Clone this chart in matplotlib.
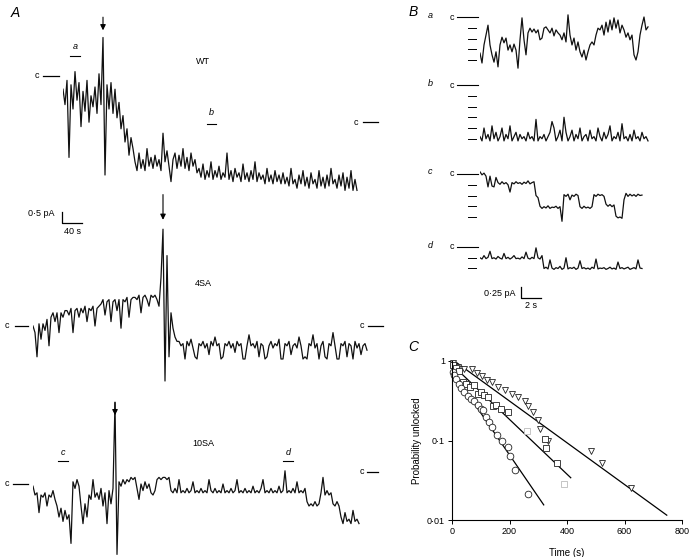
import numpy as np
import matplotlib.pyplot as plt

plt.rcParams['font.family'] = ['Liberation Sans', 'DejaVu Sans']

# ---- panel A traces (pA, one sample every 4 s) ----
wt_trace = [-0.6, -1.3, -0.2, -3.7, -0.4, -1.5, 0.2, -1.1, -0.3, -2.3, -0.7, -1.6, -0.2, -2.1, -0.9, -1.4, -0.5, -1.7, 0.1, -1.3,
            1.75, -4.5,
            -0.4, -1.5, -0.3, -1.7, -0.6, -1.9,
            -1.2, -2.4, -1.8, -3.0, -2.4, -3.6, -2.8, -3.3,
            -3.9, -4.3, -3.5, -4.2, -3.8, -4.3, -3.3, -4.1, -3.7, -4.2, -3.6, -4.1, -3.8, -4.3,
            -2.6, -3.9, -3.4, -4.1, -4.8, -3.8, -3.5, -4.2, -3.6, -4.1, -3.3, -4.2, -3.7, -4.3, -3.5, -4.1, -3.8, -4.4,
            -4.2, -4.6, -4.0, -4.7, -4.3, -4.6, -3.9, -4.7, -4.3, -4.6, -4.1, -4.7, -4.4, -4.6, -3.5, -4.7, -4.3, -4.8, -4.2, -4.6,
            -4.4, -4.8, -4.0, -4.7, -4.4, -4.8, -4.3, -4.7, -3.9, -4.8, -4.4, -4.7, -4.5, -4.9, -4.2, -4.8, -4.5, -4.9, -4.3, -4.8,
            -4.5, -4.9,
            -4.4, -4.9, -4.6, -5.0, -4.2, -4.9, -4.7, -5.1, -4.5, -4.9, -4.3, -5.0, -4.6, -5.1, -4.4, -4.9, -4.7, -5.1, -4.3, -5.0,
            -4.6, -5.1, -4.5, -5.0, -4.2, -4.9, -4.7, -5.1, -4.5, -5.0, -4.4, -5.2, -4.6, -5.1, -4.3, -5.2, -4.7, -5.2]
sa4_trace = [0.0, -0.3, -1.4, 0.1, -0.6, 0.1, -0.2, 0.3, -0.9,
             0.4, 0.6, 0.2, 0.6, -0.3, 0.6, 0.4, 0.7,
             0.7, 0.5, 0.8, -0.3, 0.7, 0.8, 0.4, 0.8, 0.6, 0.9, 0.2, 0.8, 0.7, 0.9, 0.0, 0.8, 0.9,
             1.0, 1.2, 0.5, 1.1, 1.2, 0.2, 1.1, 1.2, 0.7, 1.2, -0.1, 1.2, 1.1, 1.3, 0.4, 1.2, 1.3,
             1.3, 1.2, 1.4, 0.6, 1.3, 1.4, 1.2, 0.9, 1.4, 1.3, 1.4, 1.2,
             0.9, 2.2, 4.4, -2.5, 3.2, -1.4,
             0.6, -0.1, -0.5, -0.7,
             -0.7, -0.9, -0.8, -1.5, -0.7, -0.9, -0.6, -1.0, -1.4, -1.5, -0.8, -0.9, -0.7, -1.0, -0.8, -1.3, -0.7, -0.9, -0.5, -0.9,
             -0.8, -1.5, -1.4, -0.8, -0.9, -0.7, -1.0, -0.8, -1.2, -0.7, -0.9, -0.8, -1.5, -1.5, -0.9, -0.4, -0.9, -0.8, -1.0, -0.7,
             -1.4, -0.8, -0.9, -1.5, -1.4, -0.9, -0.7, -1.0, -0.8, -0.9, -0.6, -1.5, -1.5, -0.8, -0.9, -0.7, -1.3, -0.9, -0.8, -1.0,
             -0.5, -0.9, -1.5, -1.4, -1.5, -0.8, -0.9, -0.4, -1.0, -0.8, -1.5, -0.9, -0.7, -1.4, -1.5, -0.8, -0.9, -0.3, -0.9, -1.5,
             -1.5, -0.8, -0.9, -0.7, -1.4, -0.8, -0.9, -1.5, -0.7, -1.0, -0.8, -1.3, -0.9, -0.8, -1.1]
sa10_trace = [-0.1, -0.5, -0.4, -1.3, -0.5, -0.6, -0.4, -1.0, -0.5, -0.6, -0.3, -0.7,
              -1.0, -1.5, -1.1, -1.7, -1.2, -1.6, -1.4,
              -2.7,
              0.1, -0.2, 0.2, -0.1,
              -1.0, -1.8, -0.9, -1.5,
              -0.5, -0.7, 0.2, -0.6, -0.4, -0.7,
              -0.2, -1.0, -0.4, -1.8, -0.3, -0.9, -0.2,
              3.7, -3.2,
              0.1, -0.1, 0.2, 0.0, 0.2, 0.1, 0.3, 0.2, 0.3,
              -0.2, -0.7, 0.0, -0.3, 0.1, -0.2, 0.0,
              -0.4, -0.5, -0.3,
              0.2, 0.3, 0.2, 0.3, 0.3, 0.2, 0.3,
              -0.3, -0.4, -0.2, -0.4, 0.2, -0.4, -0.3, -0.4, -0.2, -0.4, -0.3, 0.1, -0.4, -0.3, -0.4, -0.2, -0.4, -0.3, -0.4, 0.2,
              -0.3, -0.4, -0.2, -0.4, -0.3, -0.4, 0.0, -0.4, -0.3, -0.4, -0.2, -0.4, -0.3, 0.2, -0.4, -0.3, -0.4, -0.2, -0.4, -0.3,
              -0.4, -0.1, -0.4, -0.3, -0.4, -0.2, 0.2, -0.4, -0.3, -0.4, -0.2, -0.4, -0.3, -0.4, -0.1, -0.4, -0.3, 0.6, -0.4, -0.3,
              -0.4, -0.2, -0.4, 0.1, -0.4, -0.3, -0.4, -0.2,
              -0.8, -1.0, -0.9, -1.0, -0.8, -1.0, -0.9,
              -0.4, 0.3, -0.5, -0.3, -0.5, -0.4,
              -0.9, -1.0, -0.8, -1.0,
              -1.5, -1.8, -1.3, -1.7, -1.6, -1.8, -1.2, -1.7, -1.6, -1.8]
wt_c_end = -2.1
sa10_c_end = 0.55

# ---- panel B traces (pA, one sample every 0.2 s) ----
b_a = [-0.84, -1.07, -0.65, -0.42, -0.19, -0.65, -0.88, -1.05, -0.81, -1.16, -0.65, -0.47, -0.6, -0.49, -0.77, -0.65, -0.81, -0.63, -0.77, -1.19,
       -0.53, -0.02, -0.53, -0.88, -0.37, -0.26, -0.35, -0.28, -0.37, -0.3, -0.53, -0.49, -0.26, -0.23, -0.3, -0.37, -0.26, -0.44, -0.3, -0.37,
       -0.42, -0.53, -0.37, -0.58, 0.05, -0.42, -0.65, -0.49, -0.77, -0.58, -0.81, -0.93, -0.77, -1.0, -0.81, -0.65, -0.58, -0.65, -0.42, -0.26,
       -0.3, -0.19, -0.42, -0.12, -0.35, -0.07, -0.3, -0.02, -0.26, -0.07, -0.37, -0.19, -0.3, -0.47, -0.37, -0.53, -0.42, -0.88, -1.0, -0.81,
       -0.42, -0.19, 0.0, -0.3, -0.23]
b_b = [-1.2, -1.3, -1.0, -1.25, -1.15, -1.3, -0.95, -1.25, -1.1, -1.3, -1.2, -1.0, -1.3, -1.15, -1.25, -0.95, -1.3, -1.2, -1.1, -1.3,
       -1.15, -1.25, -1.2, -1.3, -1.1, -1.25, -1.2, -1.3, -0.8, -1.3, -1.2, -1.25, -1.15, -1.3, -1.2, -1.1, -0.85, -1.0, -1.3, -1.2,
       -1.05, -1.3, -0.75, -1.1, -1.3, -1.2, -1.05, -1.3, -1.15, -1.25, -1.0, -1.3, -1.2, -1.15, -1.3, -1.05, -1.25, -1.2, -1.3, -1.0,
       -1.2, -1.3, -1.1, -1.25, -1.15, -0.95, -1.3, -1.2, -1.25, -1.1, -1.3, -0.9, -1.25, -1.2, -1.3, -1.15, -1.3, -1.05, -1.25, -1.2,
       -1.3, -1.1, -1.25, -1.2, -1.3]
b_c = [0.05, -0.02, 0.02, -0.05,
       -0.3, -0.05, -0.28, -0.3, -0.08,
       -0.2, -0.24, -0.18, -0.23, -0.2, -0.25, -0.42, -0.2, -0.23, -0.18, -0.22, -0.2, -0.24, -0.19, -0.22, -0.16, -0.23, -0.2, -0.18,
       -0.5, -0.55,
       -0.75, -0.8, -0.76, -0.79, -0.74, -0.8, -0.77, -0.78, -0.75, -0.8, -0.76, -1.1,
       -0.48, -0.52, -0.47, -0.6, -0.49, -0.52, -0.47, -0.5,
       -0.76, -0.8, -0.75, -0.79, -0.77, -0.8, -0.76,
       -0.48, -0.52, -0.47, -0.5, -0.48, -0.52,
       -0.7, -0.75, -0.71, -0.76, -0.72,
       -0.98, -1.02, -1.0, -1.03,
       -0.6, -0.45, -0.52, -0.47, -0.51, -0.48, -0.52, -0.47, -0.5, -0.49]
b_d = [-0.25, -0.28, -0.2, -0.27, -0.24, -0.1, -0.27, -0.25, -0.28, -0.22, -0.26, -0.28, -0.15, -0.27, -0.24, -0.28, -0.25, -0.2, -0.27, -0.26,
       -0.28, -0.23, -0.27, -0.12, -0.26, -0.28, -0.24, -0.27, -0.02, -0.25, -0.28, -0.2,
       -0.5, -0.47, -0.51, -0.3, -0.49, -0.52, -0.48, -0.5, -0.45, -0.52, -0.49, -0.25, -0.51, -0.48, -0.5, -0.47, -0.52, -0.49, -0.32, -0.5,
       -0.48, -0.51, -0.49, -0.52, -0.47, -0.5, -0.28, -0.51, -0.49, -0.5, -0.48, -0.52, -0.5, -0.47, -0.51, -0.49, -0.52, -0.35, -0.5, -0.48,
       -0.51, -0.49, -0.47, -0.52, -0.5, -0.48, -0.51, -0.3, -0.49, -0.5]
b_levels = [4, 5, 4, 2]

# ---- panel C ----
tri_t = [5, 22, 40, 71, 88, 105, 122, 140, 160, 184, 208, 229, 253, 265, 283, 299, 305, 335, 483, 521, 622]
tri_p = [0.95, 0.85, 0.8, 0.8, 0.7, 0.65, 0.58, 0.55, 0.47, 0.43, 0.39, 0.35, 0.31, 0.27, 0.23, 0.18, 0.14, 0.10, 0.074, 0.052, 0.025]
sq_t = [3, 15, 24, 38, 49, 62, 77, 90, 100, 112, 125, 142, 153, 170, 195, 323, 328, 365]
sq_p = [0.9, 0.82, 0.74, 0.55, 0.52, 0.47, 0.5, 0.38, 0.41, 0.37, 0.35, 0.27, 0.28, 0.25, 0.23, 0.105, 0.08, 0.052]
sq_faded_t = [260, 390]
sq_faded_p = [0.13, 0.028]
circ_t = [3, 8, 14, 24, 32, 42, 55, 66, 78, 90, 100, 108, 118, 130, 139, 156, 173, 195, 202, 218, 264]
circ_p = [0.73, 0.66, 0.6, 0.52, 0.46, 0.41, 0.36, 0.33, 0.31, 0.28, 0.25, 0.24, 0.2, 0.17, 0.147, 0.117, 0.098, 0.083, 0.064, 0.043, 0.021]
fit_tri = ([0, 747], [1.05, 0.0115])
fit_sq = ([0, 413], [0.9, 0.034])
fit_circ = ([0, 319], [0.75, 0.0155])

W, H = 693, 557
fig = plt.figure(figsize=(W / 100, H / 100), dpi=100)
TC = '#111111'


def ftext(x, y, s, **kw):
    kw.setdefault('fontsize', 6.5)
    fig.text(x / W, 1 - y / H, s, ha='center', va='center', **kw)


def trace_axes(left, zero_y, px_s, px_pa, tmax, top, bottom):
    right = left + tmax * px_s
    ax = fig.add_axes([left / W, 1 - bottom / H, (right - left) / W, (bottom - top) / H])
    ax.set_xlim(0, tmax)
    ax.set_ylim((zero_y - bottom) / px_pa, (zero_y - top) / px_pa)
    ax.axis('off')
    return ax


def draw(ax, vals, dt, lw=0.9):
    t = np.arange(len(vals)) * dt
    ax.plot(t, vals, color=TC, lw=lw)


def cmark(ax, x0, x1, xt, y, lw=0.9):
    ax.plot([x0, x1], [y, y], color='k', lw=lw, clip_on=False)
    ax.text(xt, y, 'c', fontsize=6.5, ha='center', va='center')


def arrow(ax, x, y_tail, y_head):
    ax.annotate('', xy=(x, y_head), xytext=(x, y_tail), annotation_clip=False,
                arrowprops=dict(arrowstyle='-|>', color='k', lw=0.8, mutation_scale=8))


def seg_label(ax, s, t0, t1, y_line, y_text):
    ax.plot([t0, t1], [y_line, y_line], color='k', lw=0.8, clip_on=False)
    ax.text((t0 + t1) / 2, y_text, s, fontsize=6.5, style='italic', ha='center', va='center')


# panel A
ax_wt = trace_axes(63, 76, 0.5, 22, len(wt_trace) * 4, 20, 240)
draw(ax_wt, wt_trace, 4)
cmark(ax_wt, -40, -8, -52, 0)
cmark(ax_wt, 600, 630, 586, wt_c_end)
arrow(ax_wt, 80, 2.8, 1.95)
seg_label(ax_wt, 'a', 14, 34, 0.91, 1.32)
seg_label(ax_wt, 'b', 288, 306, -2.18, -1.68)
ax_wt.plot([-2, -2, 38], [-6.18, -6.68, -6.68], color='k', lw=0.9, clip_on=False)
ftext(41, 213, '0·5 pA')
ftext(72, 231, '40 s')
ftext(203, 62, 'WT')

ax_4 = trace_axes(33, 326, 0.5, 22, len(sa4_trace) * 4, 190, 390)
draw(ax_4, sa4_trace, 4)
cmark(ax_4, -36, -10, -52, 0)
cmark(ax_4, 670, 700, 658, 0)
arrow(ax_4, 260, 6.1, 4.7)
ftext(203, 283, '4SA')

ax_10 = trace_axes(33, 484, 0.5, 22, len(sa10_trace) * 4, 390, 560)
draw(ax_10, sa10_trace, 4)
cmark(ax_10, -40, -10, -52, 0)
cmark(ax_10, 668, 690, 658, sa10_c_end)
arrow(ax_10, 164, 3.85, 3.0)
seg_label(ax_10, 'c', 50, 70, 1.05, 1.45)
seg_label(ax_10, 'd', 500, 520, 1.05, 1.45)
ftext(203, 443, '10SA')

# panel B
for vals, zero_y, nlev, lab in zip([b_a, b_b, b_c, b_d], [17, 85, 174, 247], b_levels, 'abcd'):
    ax = trace_axes(480, zero_y, 10, 43, len(vals) * 0.2, zero_y - 15, zero_y + 60)
    draw(ax, vals, 0.2, lw=0.9)
    cmark(ax, -2.3, -0.2, -2.8, 0, lw=0.8)
    for k in range(1, nlev + 1):
        ax.plot([-1.2, -0.4], [-0.25 * k, -0.25 * k], color='k', lw=0.7, clip_on=False)
    ftext(430, zero_y - 2, lab, style='italic')
    if lab == 'd':
        ax.plot([4.1, 4.1, 6.1], [-0.94, -1.19, -1.19], color='k', lw=0.9, clip_on=False)
ftext(500, 293, '0·25 pA')
ftext(531, 305, '2 s')

# panel C
axc = fig.add_axes([452 / W, 1 - 520 / H, 230 / W, 159 / H])
axc.set_yscale('log')
axc.set_xlim(0, 800)
axc.set_ylim(0.01, 1)
for sp in ['top', 'right']:
    axc.spines[sp].set_visible(False)
for sp in ['left', 'bottom']:
    axc.spines[sp].set_linewidth(0.8)
axc.set_xticks([0, 200, 400, 600, 800])
axc.set_yticks([0.01, 0.1, 1])
axc.set_yticklabels(['0·01', '0·1', '1'])
axc.yaxis.set_minor_locator(plt.NullLocator())
axc.tick_params(labelsize=6.5, length=3, width=0.7, pad=2)
axc.plot(*fit_tri, color='k', lw=0.9)
axc.plot(*fit_sq, color='k', lw=0.9)
axc.plot(*fit_circ, color='k', lw=0.9)
mk = dict(ls='none', mfc='white', mec='#222', mew=0.6, ms=4.8, clip_on=False)
axc.plot(tri_t, tri_p, marker='v', **mk)
axc.plot(sq_t, sq_p, marker='s', **mk)
axc.plot(circ_t, circ_p, marker='o', **mk)
axc.plot(sq_faded_t, sq_faded_p, marker='s', ls='none', mfc='white', mec='#bbb', mew=0.6, ms=4.8)
axc.set_xlabel('Time (s)', fontsize=7)
axc.set_ylabel('Probability unlocked', fontsize=7)
axc.xaxis.set_label_coords(0.5, -0.176)
axc.yaxis.set_label_coords(-0.13, 0.5)

# panel letters
ftext(15, 13, 'A', fontsize=10, style='italic')
ftext(413, 12, 'B', fontsize=10, style='italic')
ftext(413, 347, 'C', fontsize=10, style='italic')

fig.savefig('out.png', dpi=100)
